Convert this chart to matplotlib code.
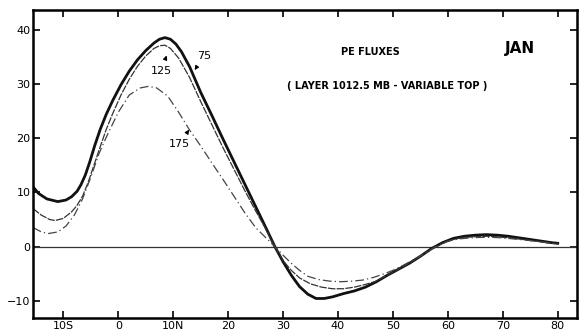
import matplotlib
matplotlib.use('Agg')
import matplotlib.pyplot as plt

# latitude ticks
lat_ticks = [-10, 0, 10, 20, 30, 40, 50, 60, 70, 80]
lat_labels = ['10S', '0', '10N', '20', '30', '40', '50', '60', '70', '80']
flux_ticks = [-10, 0, 10, 20, 30, 40]

# 75 (thick solid)
x75 = [-15.5, -14.5, -13, -11, -9.5, -8.5, -7.5, -6.8, -6, -5.2, -4.3, -3.3, -2.2, -1, 0.5, 2, 3.5, 5, 6.5,
       7.5, 8.5, 9.5, 10.5, 11.5, 13, 15, 17, 19, 21, 23, 25, 27, 28.5, 30, 31.5, 33, 34.5, 36, 37.5, 39, 41,
       43, 45, 47, 49, 51, 53, 55, 57, 59, 61, 63, 65, 67, 69, 71, 73, 75, 77, 79, 80]
y75 = [11.0, 9.8, 8.8, 8.3, 8.6, 9.2, 10.2, 11.4, 13.2, 15.6, 18.6, 21.6, 24.4, 27.0, 29.9, 32.4, 34.5, 36.2,
       37.6, 38.3, 38.6, 38.3, 37.4, 36.0, 33.2, 28.5, 24.3, 20.0, 15.8, 11.6, 7.4, 3.2, 0.0, -2.8, -5.3, -7.4,
       -8.8, -9.6, -9.6, -9.3, -8.7, -8.2, -7.5, -6.5, -5.3, -4.2, -3.1, -1.8, -0.4, 0.7, 1.5, 1.9, 2.1, 2.2,
       2.1, 1.9, 1.6, 1.3, 1.0, 0.7, 0.6]

# 125 (thin)
x125 = [-15.5, -14, -12.5, -11.5, -10, -8.5, -7.5, -6.5, -5.5, -4.5, -3.5, -2.2, -1, 0.5, 2, 3.5, 5, 6.5, 7.5,
        8.5, 9.5, 11, 13, 15, 17, 19, 21, 23, 25, 27, 28.5, 30, 31.5, 33, 35, 37, 39, 41, 43, 45, 47, 49, 51,
        53, 55, 57, 59, 61, 63, 65, 67, 69, 71, 73, 75, 77, 79, 80]
y125 = [7.0, 5.8, 5.0, 4.8, 5.2, 6.4, 7.6, 9.3, 11.8, 14.8, 17.8, 21.6, 24.6, 28.0, 30.9, 33.3, 35.2, 36.6,
        37.1, 37.2, 36.6, 34.8, 31.2, 26.8, 22.6, 18.4, 14.4, 10.4, 6.6, 3.0, 0.0, -2.6, -4.4, -5.8, -6.9, -7.5,
        -7.8, -7.8, -7.5, -7.0, -6.4, -5.3, -4.2, -3.1, -1.8, -0.5, 0.6, 1.3, 1.7, 1.8, 1.9, 1.8, 1.6, 1.4, 1.1,
        0.9, 0.6, 0.5]

# 175 (dash-dot)
x175 = [-15.5, -14, -12.7, -11, -9.5, -8, -6.5, -5, -3.5, -2, 0, 2, 4, 5.5, 7, 9, 11, 13, 15, 17, 19, 21, 23,
        25, 27, 28.5, 30, 31.5, 33, 34.5, 36.5, 38.5, 40.5, 42.5, 44.5, 46.5, 48.5, 50, 52, 54, 56, 58, 60, 62,
        64, 66, 68, 70, 72, 74, 76, 78, 80]
y175 = [3.5, 2.7, 2.4, 2.7, 3.8, 5.8, 8.8, 12.8, 17.2, 20.6, 24.8, 28.0, 29.3, 29.6, 29.3, 27.8, 24.8, 21.5,
        18.6, 15.5, 12.5, 9.4, 6.3, 3.5, 1.5, 0.0, -1.6, -3.1, -4.4, -5.5, -6.1, -6.4, -6.5, -6.4, -6.2, -5.7,
        -5.0, -4.4, -3.4, -2.3, -1.1, 0.1, 1.0, 1.4, 1.6, 1.7, 1.7, 1.6, 1.4, 1.2, 1.0, 0.7, 0.5]

fig = plt.figure(figsize=(5.81, 3.34), dpi=100)
ax = fig.add_axes([0.057, 0.048, 0.936, 0.922])

ax.axhline(0, color='#333333', lw=0.9)
ax.plot(x75, y75, color='#111111', lw=2.0, solid_joinstyle='round')
ax.plot(x125, y125, color='#333333', lw=0.9, linestyle=(0, (6, 1)))
ax.plot(x175, y175, color='#444444', lw=0.9, linestyle=(0, (7, 2.5, 1, 2.5)))

ax.set_xlim(-15.5, 83.5)
ax.set_ylim(-13.2, 43.7)
ax.set_xticks(lat_ticks)
ax.set_xticklabels(lat_labels)
ax.set_yticks(flux_ticks)
ax.tick_params(direction='in', top=True, right=True, length=5, width=1.2, labelsize=8, pad=2)
for s in ax.spines.values():
    s.set_linewidth(1.8)

# curve labels
ax.annotate('75', xy=(13.9, 32.6), xytext=(15.6, 35.2), fontsize=8, ha='center', va='center',
            arrowprops=dict(arrowstyle='-|>', lw=0.8, color='black', shrinkA=4, shrinkB=0, mutation_scale=6))
ax.annotate('125', xy=(8.8, 35.3), xytext=(7.8, 32.4), fontsize=8, ha='center', va='center',
            arrowprops=dict(arrowstyle='-|>', lw=0.8, color='black', shrinkA=4, shrinkB=0, mutation_scale=6))
ax.annotate('175', xy=(12.9, 21.6), xytext=(11.2, 19.0), fontsize=8, ha='center', va='center',
            arrowprops=dict(arrowstyle='-|>', lw=0.8, color='black', shrinkA=4, shrinkB=0, mutation_scale=6))

fig.text(370 / 581, 1 - 52 / 334, 'PE FLUXES', fontsize=7, fontweight='bold', ha='center', va='center')
fig.text(520 / 581, 1 - 49 / 334, 'JAN', fontsize=11, fontweight='bold', ha='center', va='center')
fig.text(387 / 581, 1 - 86 / 334, '( LAYER 1012.5 MB - VARIABLE TOP )', fontsize=7, fontweight='bold',
         ha='center', va='center')

fig.savefig('out.png', dpi=100)
